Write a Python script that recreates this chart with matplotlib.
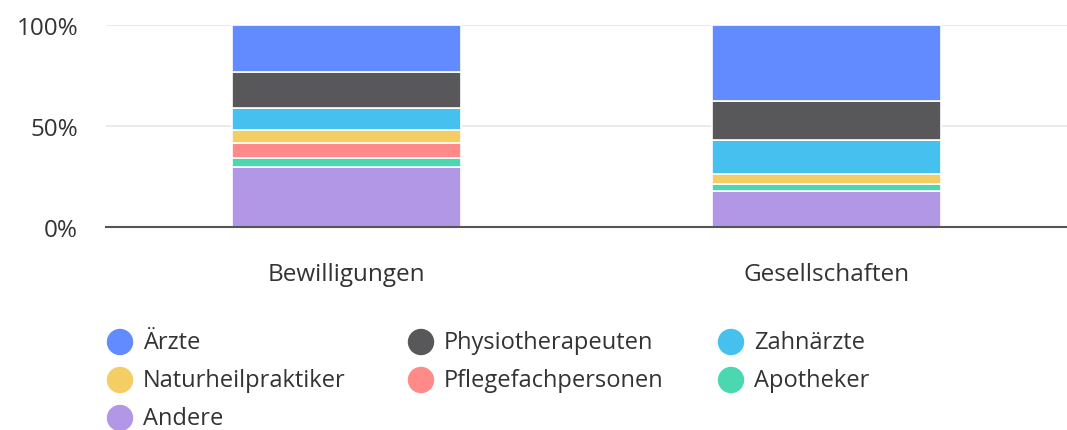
import numpy as np
import matplotlib.pyplot as plt
from matplotlib.patches import Ellipse
from matplotlib.ticker import PercentFormatter

# Data (shares in %)
categories = ["Bewilligungen", "Gesellschaften"]
groups = ["Andere", "Apotheker", "Pflegefachpersonen", "Naturheilpraktiker",
          "Zahnärzte", "Physiotherapeuten", "Ärzte"]
andere = [29.7, 17.8]
apotheker = [4.6, 3.6]
pflege = [7.3, 0.0]
natur = [6.4, 4.7]
zahn = [10.8, 17.1]
physio = [18.0, 19.2]
aerzte = [23.2, 37.6]

values = [andere, apotheker, pflege, natur, zahn, physio, aerzte]
colors = ["#b197e5", "#4bd8b0", "#ff8a87", "#f5cd65", "#45c0ef", "#58585a", "#618bff"]

plt.rcParams['font.family'] = ['Open Sans', 'DejaVu Sans']
text_col = "#333333"

fig = plt.figure(figsize=(10.67, 4.31), dpi=100)
ax = fig.add_axes([106/1067, 1 - 228/431, 1 - 106/1067, 202/431])

x = np.arange(len(categories))
bottom = np.zeros(len(categories))
for name, vals, col in zip(groups, values, colors):
    vals = np.array(vals)
    ax.bar(x, vals, bottom=bottom, width=0.477, color=col, edgecolor="white",
           linewidth=1.2, label=name, zorder=3)
    bottom += vals

ax.set_xlim(-0.5, 1.5)
ax.set_ylim(0, 100)
ax.set_yticks([0, 50, 100])
ax.yaxis.set_major_formatter(PercentFormatter(decimals=0))
ax.grid(axis="y", color="#e6e6e6", linewidth=1.2, zorder=0)
ax.set_xticks(x)
ax.set_xticklabels(categories)
ax.tick_params(axis="both", length=0, labelsize=17.5, colors=text_col)
ax.tick_params(axis="x", pad=25)
ax.tick_params(axis="y", pad=20)
for s in ["top", "right", "left"]:
    ax.spines[s].set_visible(False)
ax.spines["bottom"].set_color("#555555")
ax.spines["bottom"].set_linewidth(1.5)
ax.spines["bottom"].set_zorder(4)

# Legend laid out manually in three columns
legend_order = ["Ärzte", "Physiotherapeuten", "Zahnärzte",
                "Naturheilpraktiker", "Pflegefachpersonen", "Apotheker", "Andere"]
col_x = [120, 421, 731]
row_y = [343, 381, 419]
W, H = 1067, 431
for i, name in enumerate(legend_order):
    cx = col_x[i % 3]
    cy = row_y[i // 3]
    col = colors[groups.index(name)]
    fig.patches.append(Ellipse((cx / W, 1 - cy / H), 25 / W, 25 / H,
                               transform=fig.transFigure, color=col, figure=fig))
    fig.text((cx + 23) / W, 1 - cy / H, name, fontsize=17, color=text_col,
             va="center", ha="left")

plt.savefig("out.png", dpi=100)
